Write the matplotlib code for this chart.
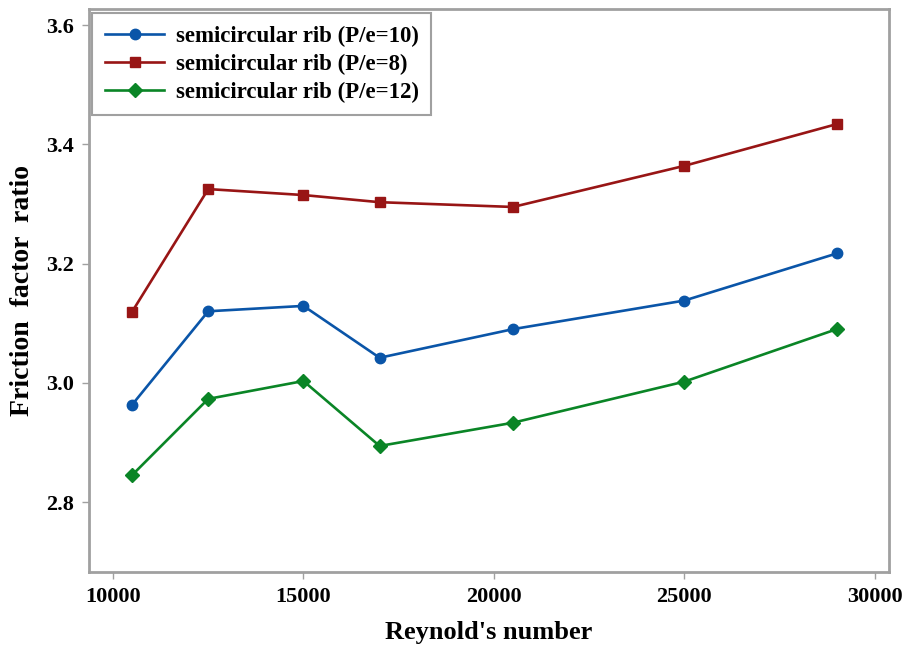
import matplotlib
matplotlib.use("Agg")
import matplotlib.pyplot as plt

reynolds = [10500, 12500, 15000, 17000, 20500, 25000, 29000]
ratio_pe10 = [2.963, 3.120, 3.129, 3.042, 3.090, 3.138, 3.217]
ratio_pe8 = [3.119, 3.325, 3.315, 3.303, 3.295, 3.364, 3.434]
ratio_pe12 = [2.845, 2.973, 3.003, 2.894, 2.933, 3.002, 3.090]

labels = ["semicircular rib (P/e=10)", "semicircular rib (P/e=8)", "semicircular rib (P/e=12)"]

plt.rcParams["font.family"] = ["Liberation Serif", "DejaVu Serif"]
plt.rcParams["font.weight"] = "bold"

fig = plt.figure(figsize=(9.07, 6.48), dpi=100)
ax = fig.add_axes([0.0981, 0.1173, 0.8820, 0.8687])

ax.plot(reynolds, ratio_pe10, color="#0a55a8", lw=1.9, marker="o", ms=7.5, label=labels[0])
ax.plot(reynolds, ratio_pe8, color="#981515", lw=1.9, marker="s", ms=7, label=labels[1])
ax.plot(reynolds, ratio_pe12, color="#0a8526", lw=1.9, marker="D", ms=7.5, label=labels[2])

ax.set_xlim(9370, 30370)
ax.set_ylim(2.6826, 3.627)
ax.set_xticks([10000, 15000, 20000, 25000, 30000])
ax.set_yticks([2.8, 3.0, 3.2, 3.4, 3.6])
ax.set_yticklabels(["2.8", "3.0", "3.2", "3.4", "3.6"])

for s in ax.spines.values():
    s.set_color("#a0a0a0")
    s.set_linewidth(2)
ax.tick_params(direction="out", length=5, width=1, color="#a0a0a0",
               labelsize=16, pad=6)
for lab in ax.get_xticklabels() + ax.get_yticklabels():
    lab.set_fontweight("bold")

ax.set_xlabel("Reynold's number", fontsize=19, fontweight="bold", labelpad=10)
ax.set_ylabel("Friction  factor  ratio", fontsize=20, fontweight="bold")
ax.yaxis.set_label_coords(-0.068, 0.5)

leg = ax.legend(loc="upper left", bbox_to_anchor=(0.004, 0.993), borderaxespad=0,
                fancybox=False, framealpha=1, edgecolor="#a0a0a0",
                handlelength=2.6, labelspacing=0.3, borderpad=0.55,
                handletextpad=0.5, prop={"weight": "bold", "size": 16.5})
leg.get_frame().set_linewidth(1.5)

fig.savefig("out.png", dpi=100)
